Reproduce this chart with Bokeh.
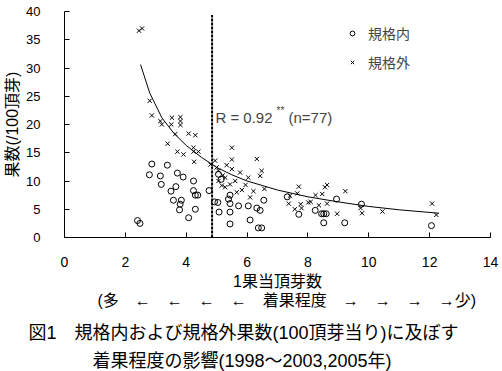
import math
from bokeh.plotting import figure
from bokeh.models import Range1d, FixedTicker, Label, Legend, LegendItem, Title
from bokeh.embed import file_html
from bokeh.resources import INLINE

# 規格内 (circles)
in_x = [2.40, 2.48, 2.87, 2.79, 3.15, 3.18, 3.38, 3.71, 3.90, 3.66, 3.50, 3.58, 3.84, 3.80,
        3.78, 4.08, 4.24, 4.24, 4.30, 4.38, 4.30, 4.75, 5.06, 4.93, 5.04, 5.08, 5.44, 5.44,
        5.44, 5.44, 5.72, 6.04, 6.10, 6.32, 6.43, 6.55, 6.37, 6.48, 5.39, 5.15, 7.32, 7.70,
        8.24, 8.45, 8.52, 8.60, 8.52, 8.94, 9.21, 9.76, 12.06]
in_y = [3.0, 2.5, 13.0, 11.1, 10.9, 9.4, 12.8, 11.4, 10.7, 9.0, 8.2, 6.6, 6.6, 5.9,
        4.9, 3.5, 10.0, 8.3, 7.5, 7.5, 5.0, 8.3, 11.2, 6.3, 6.2, 4.5, 7.5, 6.0,
        4.5, 2.4, 5.6, 5.6, 3.1, 5.2, 4.8, 6.6, 1.7, 1.7, 6.8, 10.3, 7.2, 4.1,
        4.8, 4.2, 4.2, 4.2, 2.6, 6.8, 2.6, 5.9, 2.1]

# 規格外 (crosses)
out_x = [2.45, 2.55, 2.80, 2.87, 3.15, 3.20, 3.53, 3.51, 3.81, 3.81, 3.81, 3.64, 4.08, 4.30,
         3.39, 3.71, 3.91, 4.24, 4.24, 4.40, 4.26, 4.80,
         5.50, 5.50, 6.32, 4.95, 5.33, 5.50, 5.77, 6.48, 6.43, 5.06, 5.06, 5.28, 5.44, 5.17,
         5.61, 5.83, 5.66, 6.04, 6.21, 6.10, 6.57, 5.28, 5.00, 5.20, 5.95,
         7.70, 8.63, 9.23, 7.37, 7.76, 7.65, 8.25, 8.47, 8.09, 8.36, 8.63, 8.96, 9.73, 9.78,
         7.41, 7.57, 7.79, 8.01, 8.56, 10.45, 12.08, 12.22]
out_y = [36.6, 37.0, 24.2, 21.6, 20.6, 20.0, 21.2, 20.0, 21.3, 20.6, 19.9, 18.3, 18.4, 18.1,
         16.6, 15.2, 14.7, 15.9, 15.2, 15.2, 13.4, 12.9,
         15.9, 13.8, 13.9, 13.6, 12.8, 12.1, 11.5, 11.8, 10.9, 11.8, 10.0, 10.6, 9.4, 9.2,
         10.0, 8.4, 8.0, 10.6, 8.2, 7.1, 8.6, 8.9, 12.4, 11.0, 9.3,
         9.0, 9.3, 8.2, 6.0, 5.9, 7.8, 7.5, 7.7, 6.3, 5.7, 6.0, 4.2, 5.2, 4.3,
         7.4, 5.0, 5.2, 6.2, 8.9, 4.6, 6.0, 4.0]

# fitted curve
trend_x = [2.5, 2.8, 3.2, 3.6, 4.0, 4.5, 5.0, 5.5, 6.0, 7.0, 8.0, 9.0, 10.0, 11.0, 12.3]
trend_y = [30.6, 25.6, 21.2, 18.4, 16.3, 14.2, 12.4, 11.1, 10.0, 8.4, 7.2, 6.3, 5.5, 4.9, 4.3]

threshold_x = [4.85]
threshold_y0 = [0]
threshold_y1 = [39.4]

x_ticks = [0, 2, 4, 6, 8, 10, 12, 14]
y_ticks = [0, 5, 10, 15, 20, 25, 30, 35, 40]

JP = "Liberation Sans, Noto Sans CJK JP"
NUM = "Liberation Sans"

p = figure(width=502, height=371, output_backend="svg", toolbar_location=None,
           x_range=Range1d(0, 14), y_range=Range1d(0, 40),
           min_border_left=64, min_border_right=12, min_border_top=11, min_border_bottom=134)
p.outline_line_color = None
p.grid.visible = False

for ax in (p.xaxis[0], p.yaxis[0]):
    ax.axis_line_color = "black"
    ax.major_tick_line_color = "black"
    ax.major_tick_in = 5
    ax.major_tick_out = 0
    ax.minor_tick_line_color = None
    ax.major_label_text_font = NUM
    ax.major_label_text_color = "black"
    ax.axis_label_text_font = JP
    ax.axis_label_text_font_style = "normal"
    ax.axis_label_text_color = "black"
    ax.axis_label_text_font_size = "16px"

p.xaxis.ticker = FixedTicker(ticks=x_ticks)
p.yaxis.ticker = FixedTicker(ticks=y_ticks)
p.xaxis.major_label_text_font_size = "14px"
p.yaxis.major_label_text_font_size = "13px"
p.xaxis.major_label_standoff = 19
p.yaxis.major_label_standoff = 24
p.yaxis.axis_label = "果数(/100頂芽)"
p.yaxis.axis_label_standoff = 2
p.xaxis.axis_label = "1果当頂芽数"
p.xaxis.axis_label_standoff = 3

p.segment(x0=threshold_x, y0=threshold_y0, x1=threshold_x, y1=threshold_y1,
          line_color="black", line_width=2, line_dash="3 1")
p.line(trend_x, trend_y, line_color="black", line_width=1)

r_in = p.scatter(in_x, in_y, marker="circle", size=6, fill_color=None,
                 line_color="black", line_width=1)
r_out = p.scatter(out_x, out_y, marker="x", size=6, line_color="black", line_width=1)

legend = Legend(items=[LegendItem(label="規格内", renderers=[r_in]),
                       LegendItem(label="規格外", renderers=[r_out])],
                location=(282, 165), border_line_color=None, background_fill_alpha=0,
                padding=0, margin=0, spacing=9, glyph_width=12, glyph_height=12,
                label_height=12, label_standoff=10, label_text_font_size="14px",
                label_text_font=JP, label_text_baseline="middle")
p.add_layout(legend)

# correlation note
p.add_layout(Label(x=4.96, y=21.3, text="R = 0.92", text_font=NUM, text_font_size="15px",
                   text_baseline="middle", text_align="left"))
p.add_layout(Label(x=6.97, y=22.5, text="**", text_font=NUM, text_font_size="10px",
                   text_baseline="middle", text_align="left"))
p.add_layout(Label(x=7.36, y=21.3, text="(n=77)", text_font=NUM, text_font_size="15px",
                   text_baseline="middle", text_align="left"))

# second line of the x axis title and the caption
for txt, off, size, gap in [("(多　←　←　←　←　着果程度　→　→　→　→少)", 33, "16px", -6),
                            ("図1　規格内および規格外果数(100頂芽当り)に及ぼす", -36, "18px", 30),
                            ("着果程度の影響(1998～2003,2005年)", 28, "18px", -18)]:
    p.add_layout(Title(text=txt, align="left", offset=off, text_font=JP,
                       text_font_size=size, text_font_style="normal", text_color="black",
                       standoff=gap), "below")

open("out.html", "w").write(file_html(p, INLINE))
